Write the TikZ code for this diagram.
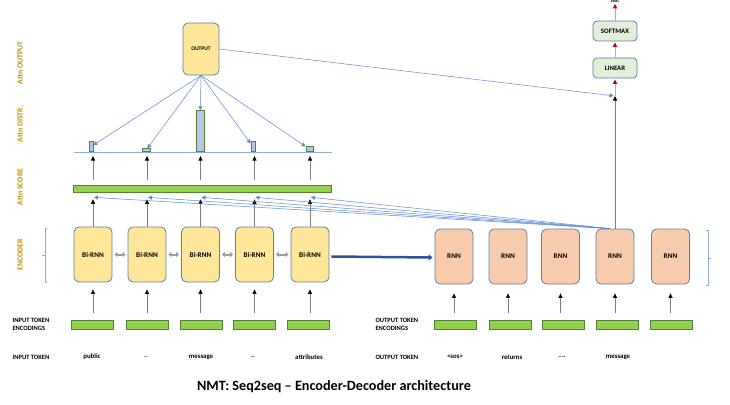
\documentclass[tikz,border=0pt]{standalone}
\usepackage{fontspec}
\setmainfont{Carlito}
\usetikzlibrary{arrows.meta,calc}
\definecolor{yfill}{HTML}{FFE699}
\definecolor{pfill}{HTML}{F8CBAD}
\definecolor{gfill}{HTML}{E2F0D9}
\definecolor{bborder}{HTML}{5A7FA8}
\definecolor{grn}{HTML}{92D050}
\definecolor{dgrn}{HTML}{548235}
\definecolor{lblue}{HTML}{B4C7E7}
\definecolor{attnblue}{HTML}{5B86D6}
\definecolor{lineblue}{HTML}{8FAADC}
\definecolor{dblue}{HTML}{2F5597}
\definecolor{gold}{HTML}{BF9000}
\definecolor{redtip}{HTML}{C00000}
\definecolor{redline}{HTML}{E59A9A}
\definecolor{greyline}{HTML}{7F7F7F}
\begin{document}
\begin{tikzpicture}[x=1pt,y=-1pt,
  box/.style={rounded corners=5pt, draw=bborder, line width=0.8pt, minimum width=38pt, minimum height=55pt, inner sep=0pt, font=\fontsize{7.2}{8}\selectfont\bfseries},
  birnn/.style={box, fill=yfill},
  rnn/.style={box, fill=pfill},
  smallbox/.style={rounded corners=4pt, draw=bborder, line width=0.8pt, fill=gfill, minimum width=44pt, minimum height=20pt, inner sep=0pt, font=\fontsize{6.8}{7}\selectfont\bfseries},
  encbar/.style={draw=dgrn, line width=0.7pt, fill=grn, minimum width=42pt, minimum height=9pt, inner sep=0pt},
  dbar/.style={draw=dgrn, line width=0.7pt, fill=lblue, inner sep=0pt, anchor=south},
  lab/.style={font=\fontsize{7.8}{8}\selectfont\bfseries, text=gold, rotate=90},
  rowlab/.style={font=\fontsize{6.5}{7.5}\selectfont\bfseries, align=left, anchor=west},
  tok/.style={font=\fontsize{6.8}{7}\selectfont\bfseries},
  up/.style={draw=greyline, line width=0.6pt, -{Triangle[width=4pt,length=4.5pt,color=black]}},
  attn/.style={draw=attnblue, line width=0.5pt, -{Triangle[width=4pt,length=4pt,color=attnblue]}},
  redar/.style={draw=redline, line width=0.8pt, -{Triangle[width=4pt,length=4.5pt,color=redtip]}},
  lr/.style={draw=black!38, line width=2pt, {Triangle[width=5pt,length=3pt]}-{Triangle[width=5pt,length=3pt]}},
  brace/.style={draw=lineblue, line width=0.6pt}
]
\useasboundingbox (0,0) rectangle (730,404);

% left labels
\node[lab] (l1) at (20,63) {Attn OUTPUT};
\node[lab] (l2) at (20,124) {Attn DISTR.};
\node[lab] (l3) at (20,187) {Attn SCORE};
\node[lab] (l4) at (20,255) {ENCODER};

% braces
\draw[brace] (47,228) -- (45,228) -- (45,282) -- (47,282);
\draw[brace] (45,255) -- (42,255);
\draw[brace] (706,230) -- (708,230) -- (708,285) -- (706,285);
\draw[brace] (708,258) -- (711,258);

% encoder boxes
\foreach \i/\x in {1/93,2/147,3/200.5,4/254.5,5/310}
  \node[birnn] (b\i) at (\x,254.5) {Bi-RNN};
% decoder boxes
\foreach \i/\x in {1/454,2/508,3/560.5,4/615,5/670.5}
  \node[rnn] (r\i) at (\x,256.5) {RNN};

% bidirectional links
\foreach \i/\j in {1/2,2/3,3/4,4/5}
  \draw[lr, shorten <=2pt, shorten >=2pt] (b\i.east) -- (b\j.west);

% encoder to decoder
\draw[draw=dblue, line width=2.5pt, -{Triangle[width=6pt,length=4pt]}] (b5.east) ++(2,2) -- ($(r1.west)+(-2,1)$);

% input encodings
\foreach \i/\x in {1/92,2/147.5,3/201,4/254,5/308.5}
  \node[encbar] (e\i) at (\x,324.5) {};
\foreach \i/\x in {1/455,2/510.5,3/563.5,4/617,5/671.5}
  \node[encbar] (o\i) at (\x,324.5) {};

\foreach \i in {1,...,5}{
  \draw[up, shorten <=7pt, shorten >=7pt] (b\i.south |- e\i.north) -- (b\i.south);
  \draw[up, shorten <=7pt, shorten >=9pt] (r\i.south |- o\i.north) -- (r\i.south);
}

% row labels
\node[rowlab] (t1) at (9,324.5) {INPUT TOKEN\\ENCODINGS};
\node[rowlab] (t2) at (9,357) {INPUT TOKEN};
\node[rowlab] (t3) at (372,324.5) {OUTPUT TOKEN\\ENCODINGS};
\node[rowlab] (t4) at (372,357) {OUTPUT TOKEN};

% tokens
\node[tok] (w1) at (92,356.5) {public};
\node[tok] (w2) at (146,357) {..};
\node[tok] (w3) at (201,357) {message};
\node[tok] (w4) at (253,357) {..};
\node[tok] (w5) at (309,357) {attributes};
\node[tok] (v1) at (455,357) {\textless sos\textgreater};
\node[tok] (v2) at (512,357) {returns};
\node[tok] (v3) at (562,357) {....};
\node[tok] (v4) at (618,357) {message};

% attention score bar
\node[encbar, minimum width=258pt, minimum height=7pt] (score) at (202,188.5) {};
\foreach \i in {1,...,5}
  \draw[up, shorten >=7pt] (b\i.north) -- (b\i.north |- score.south);

% attention lines from decoder
\foreach \i in {1,...,5}
  \draw[attn] ($(r4.north)+(-5,0)$) -- ($(b\i.north |- score.south)+(1,5)$);

% distribution baseline
\coordinate (bl1) at (74,152);
\coordinate (bl2) at (332,152);
\draw[draw=lineblue, line width=0.7pt] (bl1) -- (bl2);

\node[dbar, minimum width=4pt, minimum height=10pt] (d1) at (91,152) {};
\node[dbar, minimum width=8pt, minimum height=3pt] (d2) at (146,152) {};
\node[dbar, minimum width=8pt, minimum height=41pt] (d3) at (200,152) {};
\node[dbar, minimum width=4pt, minimum height=10pt] (d4) at (253,152) {};
\node[dbar, minimum width=7pt, minimum height=5pt] (d5) at (309.5,152) {};

\foreach \i in {1,...,5}
  \draw[up, shorten <=5pt, shorten >=4pt] (b\i.north |- score.north) -- (b\i.north |- bl1);

% output box
\node[box, fill=yfill, minimum width=36pt, minimum height=52pt, font=\fontsize{5.5}{6}\selectfont\bfseries] (out) at (201,49) {OUTPUT};
\foreach \i in {1,...,5}
  \draw[attn] (out.south) -- (d\i);

% decoder head
\node[smallbox] (lin) at (615,68) {LINEAR};
\node[smallbox] (sm) at (615,31) {SOFTMAX};
\node[font=\fontsize{5}{5}\selectfont\bfseries, inner sep=0pt] (txt) at (615,1) {text};
\coordinate (join) at (615,96);
\draw[attn, shorten >=1.5pt] (out.east) -- (join);
\draw[up] (r4.north) -- (join);
\draw[redar, shorten >=1pt] (join) -- (lin.south);
\draw[redar, shorten >=1pt] (lin.north) -- (sm.south);
\draw[redar, shorten >=1pt] (sm.north) -- (txt.south);

% title
\node[font=\fontsize{14.2}{15}\selectfont\bfseries] (title) at (334,386.5) {NMT: Seq2seq – Encoder-Decoder architecture};
\end{tikzpicture}
\end{document}
